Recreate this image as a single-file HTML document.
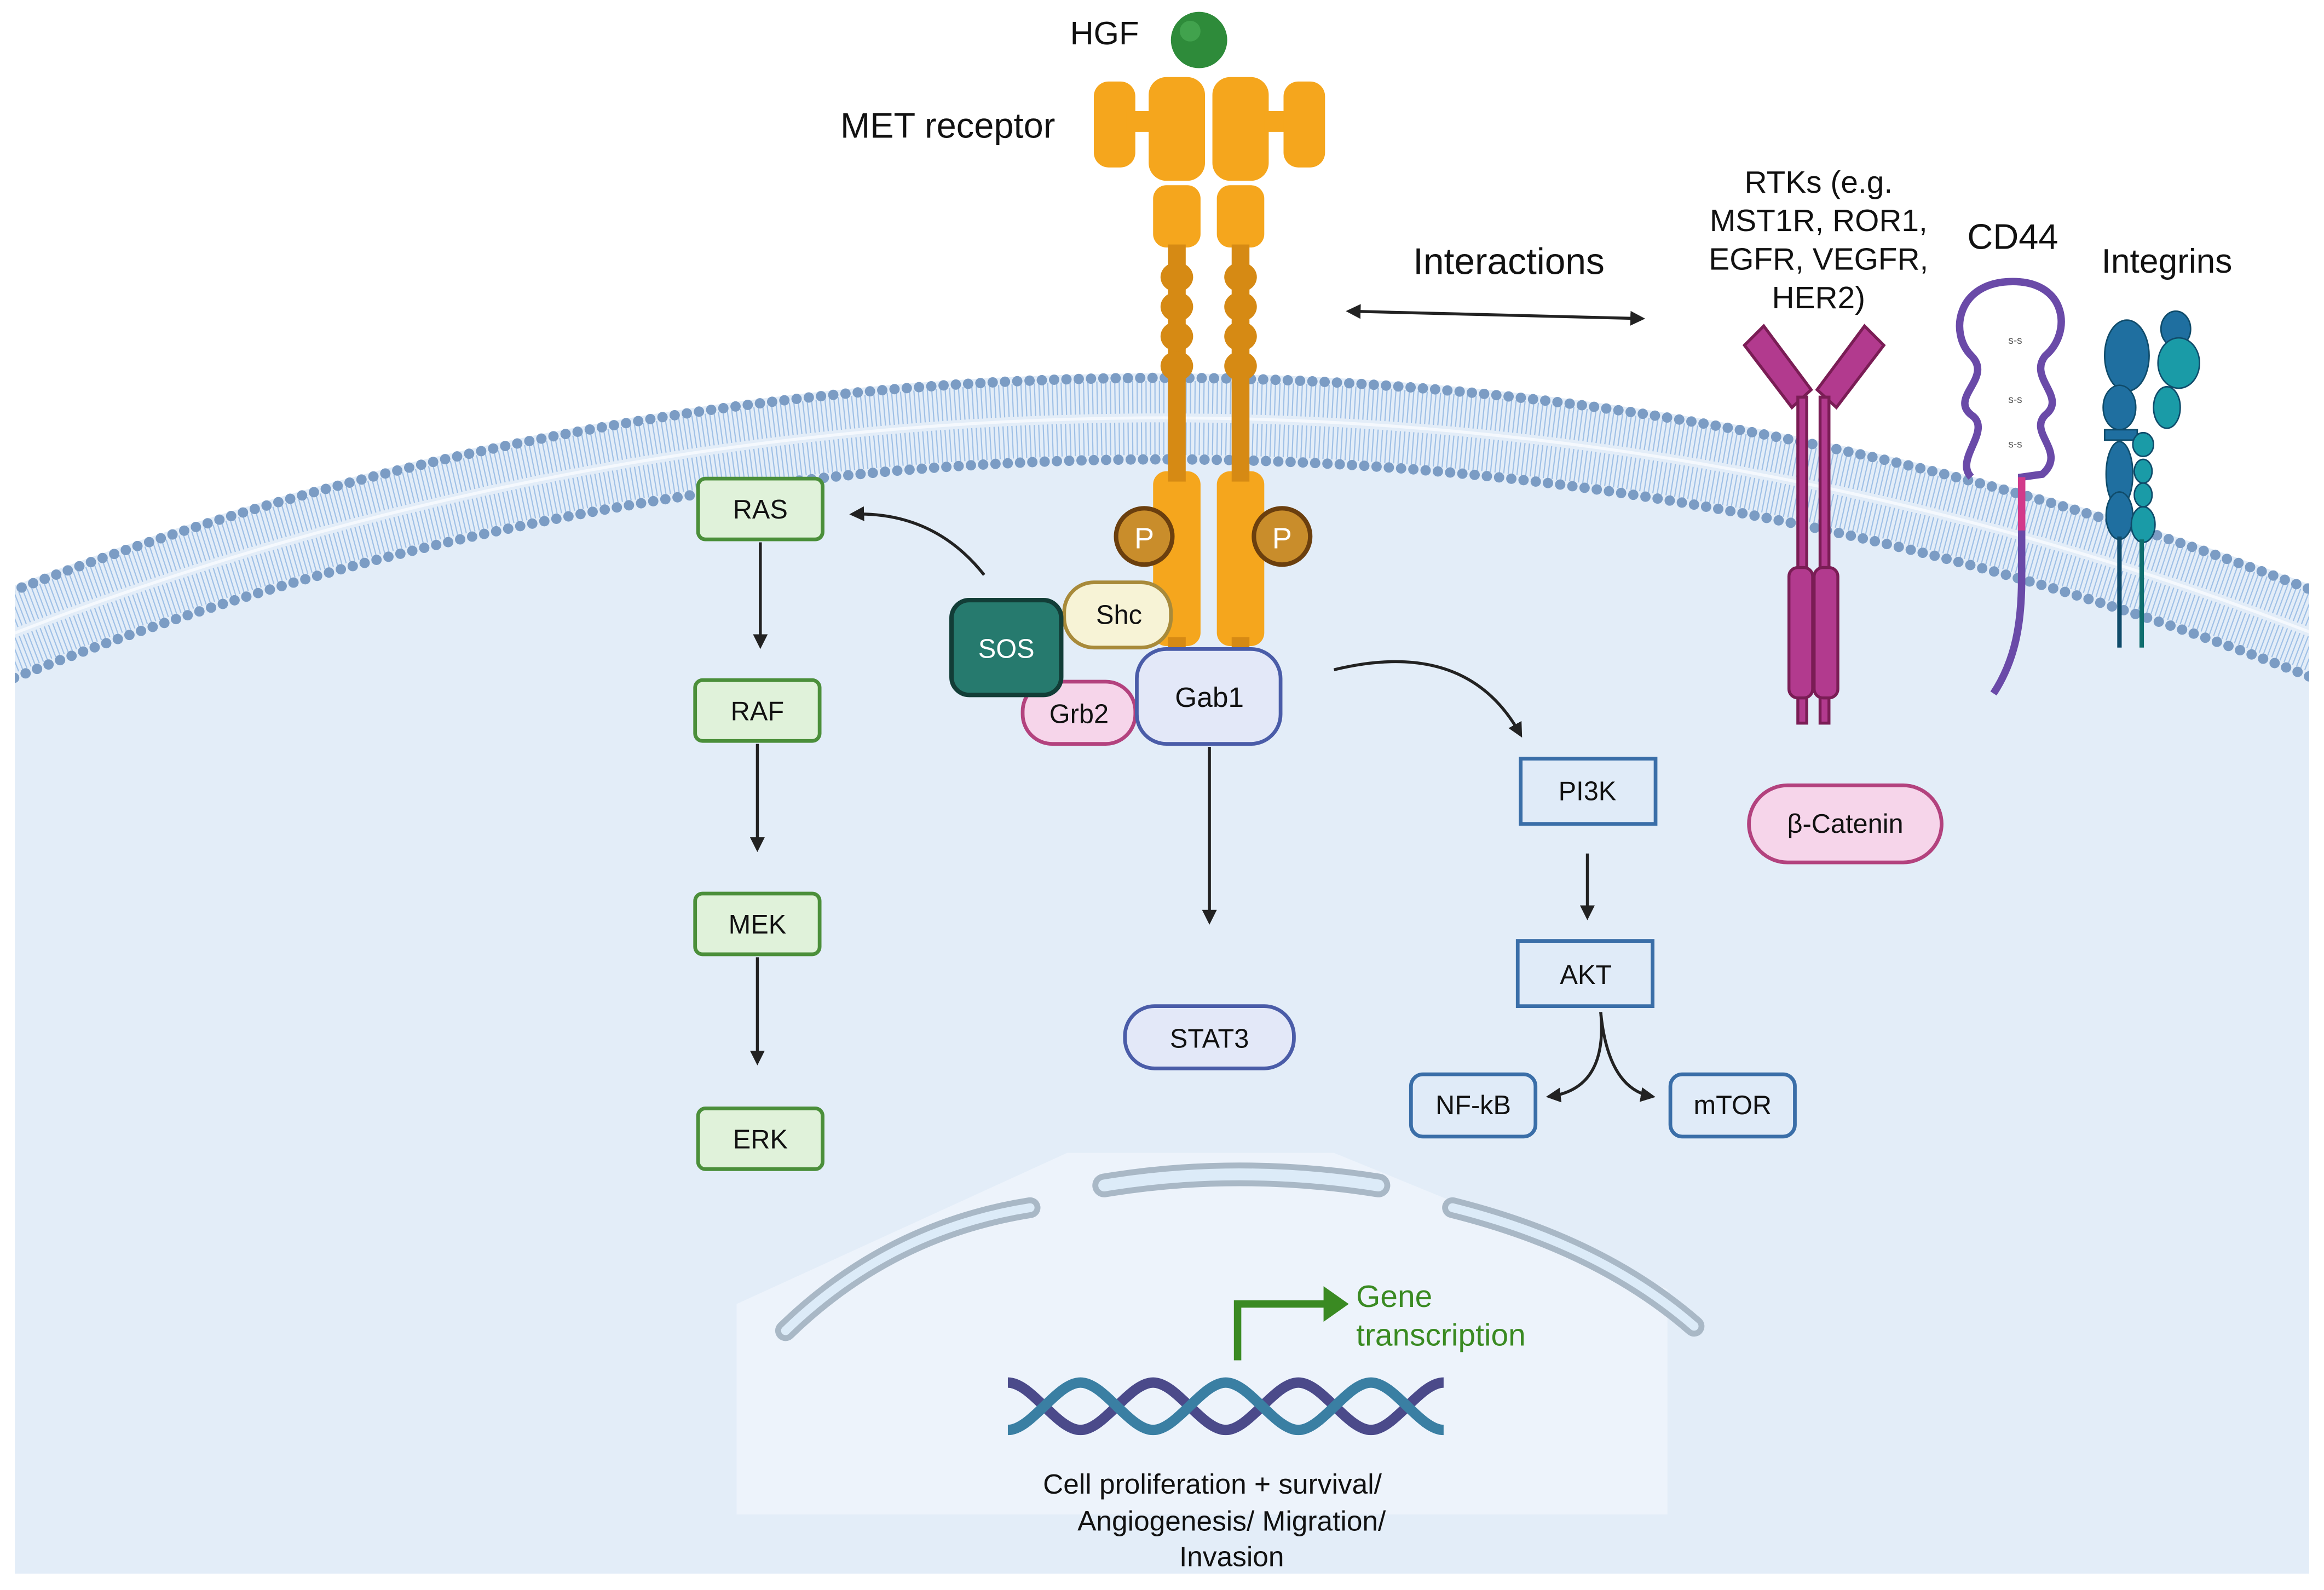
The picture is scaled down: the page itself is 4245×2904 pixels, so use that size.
<!DOCTYPE html>
<html><head><meta charset="utf-8"><style>
html,body{margin:0;padding:0;background:#fff;overflow:hidden;width:4245px;height:2904px}
svg{display:block}
text{font-family:"Liberation Sans",sans-serif}
</style></head><body>
<svg width="4245" height="2904" viewBox="0 0 1568 1073" preserveAspectRatio="none" xmlns="http://www.w3.org/2000/svg">
<defs>
<clipPath id="cellclip"><rect x="10" y="0" width="1548" height="1062"/></clipPath>
<marker id="ah" viewBox="0 0 10 10" refX="8" refY="5" markerWidth="5" markerHeight="5" orient="auto-start-reverse"><path d="M0,0 L10,5 L0,10 z" fill="#222"/></marker>
</defs>
<rect width="1568" height="1073" fill="#fff"/>
<g clip-path="url(#cellclip)">
 <circle cx="785" cy="2423" r="2171" fill="#e3edf8"/>
 <circle cx="785" cy="2423" r="2155" fill="none" stroke="#9fc0e6" stroke-width="22" stroke-dasharray="0.8 2.2"/>
 <circle cx="785" cy="2423" r="2127" fill="none" stroke="#9fc0e6" stroke-width="22" stroke-dasharray="0.8 2.2"/>
 <circle cx="785" cy="2423" r="2141" fill="none" stroke="#f4f8fd" stroke-width="2"/>
 <circle cx="785" cy="2423" r="2168" fill="none" stroke="#7b9cc4" stroke-width="7" stroke-dasharray="0 8.3" stroke-linecap="round"/>
 <circle cx="785" cy="2423" r="2113" fill="none" stroke="#7b9cc4" stroke-width="7" stroke-dasharray="0 8.3" stroke-linecap="round"/>
 <path d="M497,880 L720,778 L900,778 L1125,870 L1125,1022 L497,1022 Z" fill="#edf3fb"/>
</g>
<g fill="none" stroke-linecap="round">
 <path d="M530,898 Q600,830 695,815" stroke="#a9b8c6" stroke-width="14"/>
 <path d="M530,898 Q600,830 695,815" stroke="#dcebf8" stroke-width="6"/>
 <path d="M745,800 Q835,785 930,800" stroke="#a9b8c6" stroke-width="16"/>
 <path d="M745,800 Q835,785 930,800" stroke="#dcebf8" stroke-width="8"/>
 <path d="M980,815 Q1080,840 1143,895" stroke="#a9b8c6" stroke-width="14"/>
 <path d="M980,815 Q1080,840 1143,895" stroke="#dcebf8" stroke-width="6"/>
</g>
<g fill="none" stroke-width="7">
 <path d="M680,933 C696,933 713,965 729,965 C745,965 762,933 778,933 C794,933 811,965 827,965 C843,965 860,933 876,933 C892,933 909,965 925,965 C941,965 958,933 974,933" stroke="#4b4a8a"/>
 <path d="M680,965 C696,965 713,933 729,933 C745,933 762,965 778,965 C794,965 811,933 827,933 C843,933 860,965 876,965 C892,965 909,933 925,933 C941,933 958,965 974,965" stroke="#3a7fa3"/>
</g>
<path d="M835,918 V880 H895" fill="none" stroke="#3a8a22" stroke-width="5"/>
<path d="M893,868 L910,880 L893,892 z" fill="#3a8a22"/>
<text x="915" y="882" font-size="21" fill="#3a8a22">Gene</text>
<text x="915" y="908" font-size="21" fill="#3a8a22">transcription</text>
<text x="818" y="1008" font-size="19" text-anchor="middle" fill="#111">Cell proliferation + survival/</text>
<text x="831" y="1033" font-size="19" text-anchor="middle" fill="#111">Angiogenesis/ Migration/</text>
<text x="831" y="1057" font-size="19" text-anchor="middle" fill="#111">Invasion</text>

<circle cx="809" cy="27" r="19" fill="#2e8b3a"/><circle cx="803" cy="21" r="7" fill="#4fb35a" opacity=".6"/>
<text x="722" y="30" font-size="22" fill="#111">HGF</text>
<text x="567" y="93" font-size="24" fill="#111">MET receptor</text>
<g fill="#f5a61d">
 <rect x="738" y="55" width="28" height="58" rx="10"/>
 <rect x="760" y="75" width="18" height="14"/>
 <rect x="775" y="52" width="38" height="70" rx="12"/>
 <rect x="818" y="52" width="38" height="70" rx="12"/>
 <rect x="853" y="75" width="18" height="14"/>
 <rect x="866" y="55" width="28" height="58" rx="10"/>
 <rect x="778" y="125" width="32" height="42" rx="9"/>
 <rect x="821" y="125" width="32" height="42" rx="9"/>
 <rect x="778" y="318" width="32" height="118" rx="9"/>
 <rect x="821" y="318" width="32" height="118" rx="9"/>
</g>
<g fill="#d68a14">
 <rect x="788" y="165" width="12" height="160"/><rect x="831" y="165" width="12" height="160"/>
 <ellipse cx="794" cy="187" rx="11" ry="10"/><ellipse cx="794" cy="207" rx="11" ry="10"/><ellipse cx="794" cy="227" rx="11" ry="10"/><ellipse cx="794" cy="247" rx="11" ry="10"/>
 <ellipse cx="837" cy="187" rx="11" ry="10"/><ellipse cx="837" cy="207" rx="11" ry="10"/><ellipse cx="837" cy="227" rx="11" ry="10"/><ellipse cx="837" cy="247" rx="11" ry="10"/>
 <rect x="788" y="430" width="12" height="20"/><rect x="831" y="430" width="12" height="20"/>
</g>
<circle cx="772" cy="362" r="19" fill="#c98d2b" stroke="#6b3f0e" stroke-width="3"/>
<text x="772" y="370" font-size="20" text-anchor="middle" fill="#fff">P</text>
<circle cx="865" cy="362" r="19" fill="#c98d2b" stroke="#6b3f0e" stroke-width="3"/>
<text x="865" y="370" font-size="20" text-anchor="middle" fill="#fff">P</text>

<rect x="718" y="393" width="72" height="44" rx="20" fill="#f7f3d6" stroke="#a88a3a" stroke-width="2.5"/>
<text x="755" y="421" font-size="18" text-anchor="middle" fill="#111">Shc</text>
<rect x="690" y="460" width="76" height="42" rx="20" fill="#f6d5ea" stroke="#b3427e" stroke-width="2.5"/>
<text x="728" y="488" font-size="18" text-anchor="middle" fill="#111">Grb2</text>
<rect x="642" y="405" width="74" height="64" rx="12" fill="#267a6e" stroke="#123d37" stroke-width="3"/>
<text x="679" y="444" font-size="18" text-anchor="middle" fill="#fff">SOS</text>
<rect x="767" y="438" width="97" height="64" rx="20" fill="#e3e8f8" stroke="#4a5ca8" stroke-width="2.5"/>
<text x="816" y="477" font-size="19" text-anchor="middle" fill="#111">Gab1</text>

<g font-size="18" text-anchor="middle" fill="#111">
 <rect x="471" y="323" width="84" height="41" rx="5" fill="#e0f2da" stroke="#4b8f3a" stroke-width="2.5"/><text x="513" y="350">RAS</text>
 <rect x="469" y="459" width="84" height="41" rx="5" fill="#e0f2da" stroke="#4b8f3a" stroke-width="2.5"/><text x="511" y="486">RAF</text>
 <rect x="469" y="603" width="84" height="41" rx="5" fill="#e0f2da" stroke="#4b8f3a" stroke-width="2.5"/><text x="511" y="630">MEK</text>
 <rect x="471" y="748" width="84" height="41" rx="5" fill="#e0f2da" stroke="#4b8f3a" stroke-width="2.5"/><text x="513" y="775">ERK</text>
 <rect x="1026" y="512" width="91" height="44" fill="#e0ebf8" stroke="#3a6ea8" stroke-width="2.5"/><text x="1071" y="540">PI3K</text>
 <rect x="1024" y="635" width="91" height="44" fill="#e0ebf8" stroke="#3a6ea8" stroke-width="2.5"/><text x="1070" y="664">AKT</text>
 <rect x="952" y="725" width="84" height="42" rx="8" fill="#e0ebf8" stroke="#3a6ea8" stroke-width="2.5"/><text x="994" y="752">NF-kB</text>
 <rect x="1127" y="725" width="84" height="42" rx="8" fill="#e0ebf8" stroke="#3a6ea8" stroke-width="2.5"/><text x="1169" y="752">mTOR</text>
 <rect x="759" y="679" width="114" height="42" rx="20" fill="#e3e8f8" stroke="#4a5ca8" stroke-width="2.5"/><text x="816" y="707">STAT3</text>
 <rect x="1180" y="530" width="130" height="52" rx="26" fill="#f6d5ea" stroke="#b3427e" stroke-width="2.5"/><text x="1245" y="562">β-Catenin</text>
</g>
<g fill="none" stroke="#222" stroke-width="2" marker-end="url(#ah)">
 <path d="M513,366 V436"/><path d="M511,502 V573"/><path d="M511,646 V717"/>
 <path d="M816,504 V622"/><path d="M1071,576 V619"/>
 <path d="M664,388 Q630,345 575,347"/>
 <path d="M900,452 Q990,430 1026,496"/>
 <path d="M1080,683 Q1085,735 1045,740"/>
 <path d="M1080,683 Q1085,735 1115,740"/>
 <path d="M910,210 L1108,215" marker-start="url(#ah)"/>
</g>
<text x="1018" y="185" font-size="25" text-anchor="middle" fill="#111">Interactions</text>

<text x="1227" y="130" font-size="21" text-anchor="middle" fill="#111">RTKs (e.g.</text>
<text x="1227" y="156" font-size="21" text-anchor="middle" fill="#111">MST1R, ROR1,</text>
<text x="1227" y="182" font-size="21" text-anchor="middle" fill="#111">EGFR, VEGFR,</text>
<text x="1227" y="208" font-size="21" text-anchor="middle" fill="#111">HER2)</text>
<g fill="#b23a8e" stroke="#7a1d55" stroke-width="2">
 <path d="M1177,233 L1190,220 L1222,263 L1209,275 z"/>
 <path d="M1271,233 L1258,220 L1226,263 L1239,275 z"/>
 <rect x="1213" y="268" width="6" height="220"/><rect x="1228" y="268" width="6" height="220"/>
 <rect x="1207" y="383" width="16" height="88" rx="6"/><rect x="1224" y="383" width="16" height="88" rx="6"/>
</g>
<text x="1358" y="168" font-size="24" text-anchor="middle" fill="#111">CD44</text>
<path d="M1330,322 C1318,310 1345,290 1330,280 C1315,268 1345,255 1330,240 C1315,225 1320,190 1358,190 C1395,190 1398,225 1380,240 C1368,255 1395,268 1380,280 C1368,292 1395,305 1378,320 L1364,322 L1364,390 C1364,420 1360,445 1345,468" fill="none" stroke="#6a4aa8" stroke-width="5"/>
<path d="M1364,322 V358" stroke="#d23a8a" stroke-width="5"/>
<text x="1355" y="232" font-size="7" fill="#555">s-s</text><text x="1355" y="272" font-size="7" fill="#555">s-s</text><text x="1355" y="302" font-size="7" fill="#555">s-s</text>
<text x="1462" y="184" font-size="23" text-anchor="middle" fill="#111">Integrins</text>
<g stroke="#0f4b6a" stroke-width="1">
 <ellipse cx="1435" cy="240" rx="15" ry="24" fill="#1f6fa0"/>
 <ellipse cx="1468" cy="222" rx="10" ry="12" fill="#1f6fa0"/>
 <ellipse cx="1470" cy="245" rx="14" ry="17" fill="#1a9ba7"/>
 <ellipse cx="1430" cy="275" rx="11" ry="15" fill="#1f6fa0"/>
 <ellipse cx="1462" cy="275" rx="9" ry="14" fill="#1a9ba7"/>
 <rect x="1420" y="290" width="22" height="7" fill="#1f6fa0"/>
 <ellipse cx="1430" cy="320" rx="9" ry="22" fill="#1f6fa0"/>
 <ellipse cx="1430" cy="348" rx="9" ry="16" fill="#1f6fa0"/>
 <ellipse cx="1446" cy="300" rx="7" ry="8" fill="#1a9ba7"/>
 <ellipse cx="1446" cy="318" rx="6" ry="8" fill="#1a9ba7"/>
 <ellipse cx="1446" cy="334" rx="6" ry="8" fill="#1a9ba7"/>
 <ellipse cx="1446" cy="354" rx="8" ry="12" fill="#1a9ba7"/>
</g>
<path d="M1430,362 V437" stroke="#0f4b6a" stroke-width="3"/>
<path d="M1445,364 V437" stroke="#0f6e6e" stroke-width="3"/>
</svg>
</body></html>
